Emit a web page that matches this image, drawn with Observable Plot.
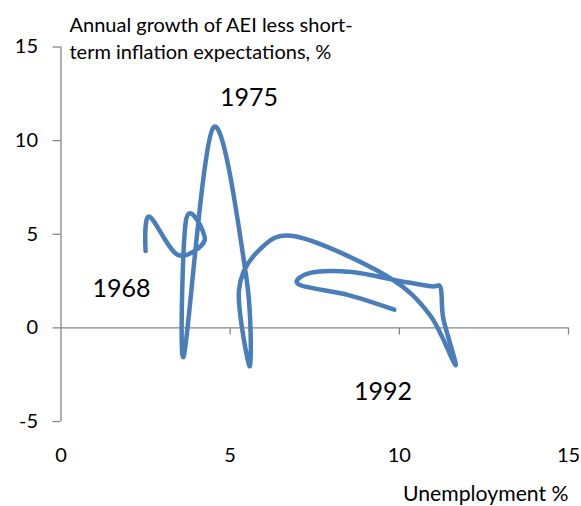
<!DOCTYPE html>
<html>
<head>
<meta charset="utf-8">
<script src="https://cdn.jsdelivr.net/npm/d3@7"></script>
<script src="https://cdn.jsdelivr.net/npm/@observablehq/plot@0.6"></script>
<style>
  html, body { margin: 0; padding: 0; background: #fff; }
  #chart svg { display: block; }
</style>
</head>
<body>
<div id="chart"></div>
<script>
// Unemployment % (x) and annual growth of AEI less short-term inflation expectations, % (y)
const unemployment = [2.5, 2.6, 3.45, 4.25, 3.7, 3.63, 4.5, 5.47, 5.58, 5.26, 5.85, 6.95, 9.6, 10.9, 11.66, 11.3, 11.22, 10.95, 10.0, 8.6, 7.4, 7.02, 8.5, 9.85];
const growth       = [4.1, 5.95, 3.9, 4.7, 5.8, -1.5, 10.7, 2.8, -2.05, 2.0, 4.14, 4.88, 2.8, 0.7, -2.0, 0.5, 2.14, 2.22, 2.5, 2.98, 2.95, 2.32, 1.75, 0.97];

const xTicks = [0, 5, 10, 15];
const yTicks = [-5, 0, 5, 10, 15];

const yearLabels = ["1968", "1975", "1992"];
const yearLabelX = [1.79, 5.56, 9.52];
const yearLabelY = [2.06, 12.28, -3.44];

const titleText = "Annual growth of AEI less short-\nterm inflation expectations, %";
const xLabel = "Unemployment %";

const data = unemployment.map((u, i) => ({u, g: growth[i]}));
const labels = yearLabels.map((t, i) => ({t, x: yearLabelX[i], y: yearLabelY[i]}));

const axisGrey = "#868686";
const font = "Lato, 'Open Sans', sans-serif";
const fmt = d => String(d);

const chart = Plot.plot({
  width: 581,
  height: 506,
  marginLeft: 60.5,
  marginRight: 13,
  marginTop: 46.5,
  marginBottom: 85,
  style: {fontFamily: font, background: "#fff", color: "#000"},
  x: {domain: [0, 15], axis: null},
  y: {domain: [-5, 15], axis: null},
  marks: [
    // y axis line and ticks
    Plot.ruleX([0], {y1: -5, y2: 15, stroke: axisGrey, strokeWidth: 1.3}),
    Plot.ruleY(yTicks, {x1: 0, x2: 0, insetLeft: -8, stroke: axisGrey, strokeWidth: 1.3}),
    Plot.axisY({ticks: yTicks, tickFormat: fmt, tickSize: 0, tickPadding: 23, anchor: "left", fontSize: 20, fill: "#000"}),
    // horizontal axis at y = 0 with downward ticks
    Plot.ruleY([0], {x1: 0, x2: 15, stroke: axisGrey, strokeWidth: 1.3}),
    Plot.ruleX(xTicks.filter(d => d > 0), {y1: 0, y2: 0, insetBottom: -7, stroke: axisGrey, strokeWidth: 1.3}),
    Plot.axisX({ticks: xTicks, tickFormat: fmt, tickSize: 0, tickPadding: 26, anchor: "bottom", fontSize: 20, fill: "#000"}),
    // data line
    Plot.line(data, {x: "u", y: "g", curve: "cardinal", tension: 0, stroke: "#4A7EBB", strokeWidth: 4.5, strokeLinecap: "round", strokeLinejoin: "round"}),
    // year labels
    Plot.text(labels, {x: "x", y: "y", text: "t", fontSize: 25, fill: "#000", textAnchor: "middle"}),
    // title (y axis label)
    Plot.text([titleText], {frameAnchor: "top-left", dx: 8.5, dy: -33.7, lineAnchor: "top", textAnchor: "start", fontSize: 20, lineHeight: 1.35, fill: "#000"}),
    // x axis label
    Plot.text([xLabel], {frameAnchor: "bottom-right", dx: 0, dy: 79, lineAnchor: "bottom", textAnchor: "end", fontSize: 21.2, fill: "#000"})
  ]
});

document.getElementById("chart").appendChild(chart);
</script>
</body>
</html>
